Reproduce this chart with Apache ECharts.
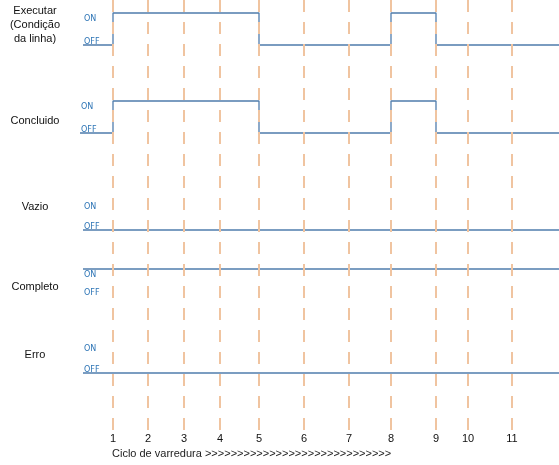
<!DOCTYPE html>
<html><head><meta charset="utf-8">
<script src="https://cdn.jsdelivr.net/npm/echarts@6/dist/echarts.min.js"></script>
<style>body{margin:0}#main{width:559px;height:465px}</style>
</head><body><div id="main"></div>
<script>
// ciclos de varredura
var cycles = [1, 2, 3, 4, 5, 6, 7, 8, 9, 10, 11];
var cyclePos = [113, 148, 184, 220, 259, 304, 349, 391, 436, 468, 512];
var signals = ['Executar\n(Condição\nda linha)', 'Concluido', 'Vazio', 'Completo', 'Erro'];
// estado inicial e ciclos onde o sinal muda
var initState = [0, 0, 0, 1, 0];
var toggles = [[1, 5, 8, 9], [1, 5, 8, 9], [], [], []];

// layout (pixels)
var rowOn = [13, 101, 201, 269, 343];
var rowOff = [45, 133, 230, 296, 373];
var rowStart = [83, 80, 83, 83, 83];
var labelY = [25, 121, 207, 287, 355];
var color = '#4f7cac';

function pos(c) { return cyclePos[c - 1]; }

var series = [];
var graphic = [];
signals.forEach(function (name, i) {
    var s = initState[i];
    var lv = function (st) { return st ? rowOn[i] : rowOff[i]; };
    var data = [[rowStart[i], lv(s)]];
    toggles[i].forEach(function (c) {
        data.push([pos(c), lv(s)]);
        s = 1 - s;
        data.push([pos(c), lv(s)]);
    });
    data.push([559, lv(s)]);
    series.push({type: 'line', data: data, symbol: 'none', lineStyle: {color: color, width: 1.3}, silent: true});
    graphic.push({type: 'text', style: {text: name, x: 35, y: labelY[i], align: 'center', verticalAlign: 'middle', font: '500 11px Arial, "Liberation Sans"', fill: '#111', lineHeight: 14}});
    graphic.push({type: 'text', style: {text: 'ON', x: rowStart[i] + 1, y: rowOn[i] + 2, font: '8px "DejaVu Sans"', fill: '#2e75b6'}});
    graphic.push({type: 'text', style: {text: 'OFF', x: rowStart[i] + 1, y: rowOff[i] - 7, font: '8px "DejaVu Sans"', fill: '#2e75b6'}});
});
cycles.forEach(function (c, k) {
    graphic.push({type: 'text', style: {text: String(c), x: cyclePos[k], y: 433, align: 'center', font: '11px Arial, "Liberation Sans"', fill: '#111'}});
});
graphic.push({type: 'text', style: {text: 'Ciclo de varredura >>>>>>>>>>>>>>>>>>>>>>>>>>>>>', x: 112, y: 448, font: '11px Arial, "Liberation Sans"', fill: '#222'}});

series.unshift({
    type: 'line', data: [], silent: true,
    markLine: {
        symbol: 'none', label: {show: false},
        lineStyle: {color: '#f0c4a0', width: 2, type: [12, 10]},
        data: cyclePos.map(function (x) { return [{coord: [x, 0]}, {coord: [x, 440]}]; })
    }
});

var myChart = echarts.init(document.getElementById('main'));
myChart.setOption({
    animation: false,
    grid: {left: 0, right: 0, top: 0, bottom: 25},
    xAxis: {type: 'value', min: 0, max: 559, show: false},
    yAxis: {type: 'value', min: 0, max: 440, inverse: true, show: false},
    graphic: graphic,
    series: series
});
</script></body></html>
